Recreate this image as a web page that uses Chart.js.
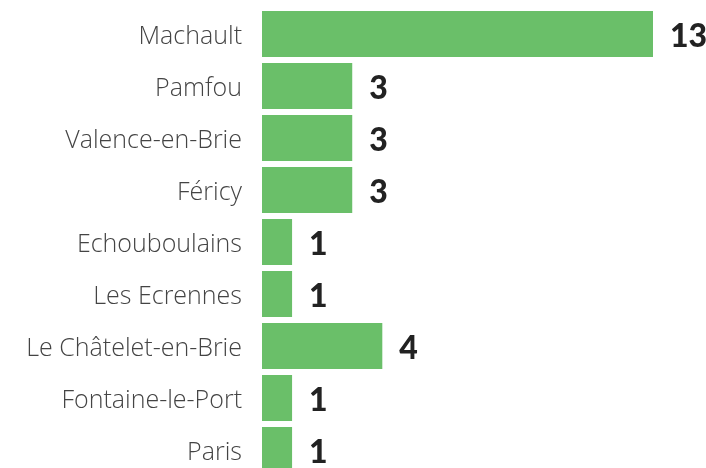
<!DOCTYPE html>
<html lang="fr">
<head>
  <meta charset="UTF-8">
  <title>Communes</title>
  <script src="https://cdn.jsdelivr.net/npm/chart.js"></script>
  <style>
    html, body { margin: 0; padding: 0; background: #fff; overflow: hidden; }
    .wrap { width: 706px; height: 468px; overflow: hidden; }
    canvas { display: block; }
  </style>
</head>
<body>
  <div class="wrap">
    <canvas id="chart" width="706" height="480"></canvas>
  </div>

  <script>
    const communes = ["Machault", "Pamfou", "Valence-en-Brie", "Féricy", "Echouboulains",
      "Les Ecrennes", "Le Châtelet-en-Brie", "Fontaine-le-Port", "Paris"];
    const counts = [13, 3, 3, 3, 1, 1, 4, 1, 1];

    const barGreen = "#6abf69";

    // writes the count just right of each bar
    const valueLabels = {
      id: "valueLabels",
      afterDatasetsDraw(chart) {
        const ctx = chart.ctx;
        const meta = chart.getDatasetMeta(0);
        ctx.save();
        ctx.font = "900 32px Lato, 'DejaVu Sans', sans-serif";
        ctx.fillStyle = "#222";
        ctx.textAlign = "left";
        ctx.textBaseline = "middle";
        meta.data.forEach((bar, i) => {
          ctx.fillText(String(counts[i]), bar.x + 17, bar.y + 3);
        });
        ctx.restore();
      }
    };

    new Chart(document.getElementById("chart"), {
      type: "bar",
      data: {
        labels: communes,
        datasets: [{
          data: counts,
          backgroundColor: barGreen,
          borderWidth: 0,
          categoryPercentage: 1,
          barPercentage: 0.885
        }]
      },
      options: {
        indexAxis: "y",
        responsive: false,
        animation: false,
        layout: { padding: { top: 8, bottom: 4, right: 53, left: 0 } },
        plugins: { legend: { display: false }, tooltip: { enabled: false } },
        scales: {
          x: { display: false, min: 0, max: 13 },
          y: {
            grid: { display: false, drawTicks: false },
            border: { display: false },
            afterFit(scale) {
              scale.width = 262;
              scale.paddingTop = 0;
              scale.paddingBottom = 0;
            },
            ticks: {
              padding: 20,
              labelOffset: 3,
              color: "#444",
              font: { family: "'Open Sans', sans-serif", size: 25, weight: "300" }
            }
          }
        }
      },
      plugins: [valueLabels]
    });
  </script>
</body>
</html>
